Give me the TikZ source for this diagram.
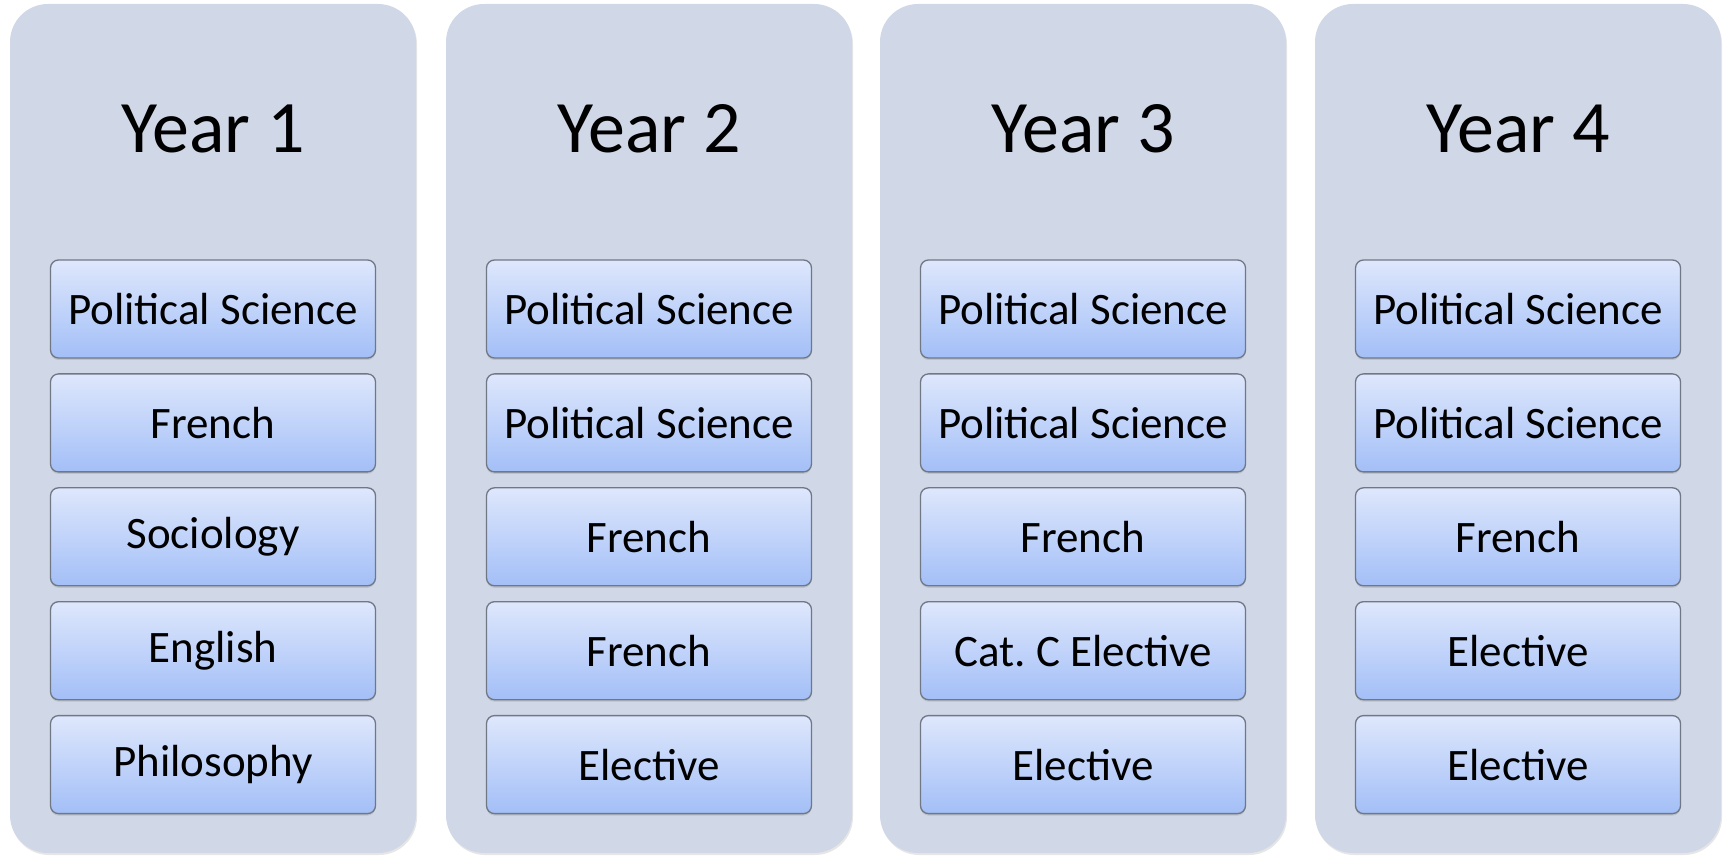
\documentclass[tikz,border=0pt]{standalone}
\usepackage{fontspec}
\setmainfont{Carlito}
\usepackage{tikz}
\usetikzlibrary{positioning,shadows}
\definecolor{yearfill}{RGB}{208,216,232}
\definecolor{boxtop}{RGB}{222,231,252}
\definecolor{boxbottom}{RGB}{163,191,247}
\definecolor{boxline}{RGB}{112,120,134}

\begin{document}
\begin{tikzpicture}[x=1pt,y=1pt,
      yearcol/.style={rectangle,rounded corners=38pt,fill=yearfill,
        minimum width=406pt,minimum height=849pt,inner sep=0pt,
        drop shadow={shadow xshift=1pt,shadow yshift=-2pt,opacity=0.2}},
      yeartitle/.style={font=\fontsize{74}{80}\selectfont,anchor=base},
      course/.style={rectangle,rounded corners=8pt,draw=boxline,line width=1.3pt,
        top color=boxtop,bottom color=boxbottom,
        minimum width=325pt,minimum height=98pt,inner sep=0pt,
        font=\fontsize{45}{50}\selectfont,
        drop shadow={shadow xshift=0pt,shadow yshift=-2pt,opacity=0.25}},
      node distance=14.6pt]
      \useasboundingbox (0,0) rectangle (1729,857);
      % year 1
      \node[yearcol] (Year1) at (213,428.5) {};
      \node[yeartitle] (T1) at (213,704) {Year 1};
      \node[course] (Y1a) at (213,548) {Political Science};
      \node[course,below=of Y1a] (Y1b) {French};
      \node[course,below=of Y1b] (Y1c) {Sociology};
      \node[course,below=of Y1c] (Y1d) {English};
      \node[course,below=of Y1d] (Y1e) {Philosophy};
      % year 2
      \node[yearcol] (Year2) at (649,428.5) {};
      \node[yeartitle] (T2) at (649,704) {Year 2};
      \node[course] (Y2a) at (649,548) {Political Science};
      \node[course,below=of Y2a] (Y2b) {Political Science};
      \node[course,below=of Y2b] (Y2c) {French};
      \node[course,below=of Y2c] (Y2d) {French};
      \node[course,below=of Y2d] (Y2e) {Elective};
      % year 3
      \node[yearcol] (Year3) at (1083,428.5) {};
      \node[yeartitle] (T3) at (1083,704) {Year 3};
      \node[course] (Y3a) at (1083,548) {Political Science};
      \node[course,below=of Y3a] (Y3b) {Political Science};
      \node[course,below=of Y3b] (Y3c) {French};
      \node[course,below=of Y3c] (Y3d) {Cat.\ C Elective};
      \node[course,below=of Y3d] (Y3e) {Elective};
      % year 4
      \node[yearcol] (Year4) at (1518,428.5) {};
      \node[yeartitle] (T4) at (1518,704) {Year 4};
      \node[course] (Y4a) at (1518,548) {Political Science};
      \node[course,below=of Y4a] (Y4b) {Political Science};
      \node[course,below=of Y4b] (Y4c) {French};
      \node[course,below=of Y4c] (Y4d) {Elective};
      \node[course,below=of Y4d] (Y4e) {Elective};
\end{tikzpicture}
\end{document}
